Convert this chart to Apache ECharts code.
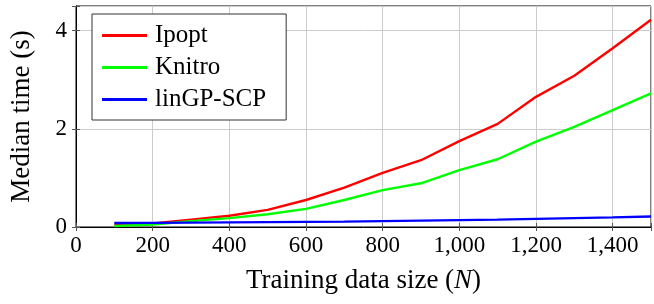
<!DOCTYPE html>
<html><head><meta charset="utf-8">
<script src="https://cdn.jsdelivr.net/npm/echarts@6/dist/echarts.min.js"></script>
<style>html,body{margin:0;padding:0;background:#fff}#c{width:654px;height:304px}</style>
</head><body><div id="c"></div>
<script>
const sizes = [100,200,300,400,500,600,700,800,900,1000,1100,1200,1300,1400,1500];
const ipopt = [0.05,0.07,0.15,0.23,0.35,0.55,0.8,1.1,1.36,1.75,2.1,2.65,3.08,3.64,4.22];
const knitro = [0.02,0.05,0.12,0.18,0.26,0.37,0.55,0.75,0.89,1.16,1.38,1.74,2.04,2.38,2.72];
const lingp = [0.08,0.085,0.09,0.095,0.1,0.105,0.11,0.12,0.13,0.14,0.15,0.165,0.18,0.195,0.215];
const xTicks = [0,200,400,600,800,1000,1200,1400];
const yTicks = [0,2,4];

const font = 'Liberation Serif';
const pair = a => sizes.map((x,i)=>[x,a[i]]);
const chart = echarts.init(document.getElementById('c'));
const gridLine = {show:true,lineStyle:{color:'#cccccc',width:1}};
chart.setOption({
  animation:false,
  textStyle:{fontFamily:font,color:'#000'},
  grid:{left:74,right:-4,top:6,bottom:77,show:true,borderColor:'#000',borderWidth:1},
  legend:{orient:'vertical',left:92,top:14,icon:'rect',itemWidth:45,itemHeight:3,itemGap:7,
    padding:[9,20,8,10],borderColor:'#333',borderWidth:1,backgroundColor:'#fff',borderRadius:0,
    textStyle:{fontFamily:font,fontSize:25,color:'#000',padding:[0,0,0,3]},
    data:['Ipopt','Knitro','linGP-SCP']},
  xAxis:[{type:'value',min:0,max:1500,interval:200,
    axisLine:{lineStyle:{color:'#000'}},
    axisTick:{inside:true,length:4,lineStyle:{color:'#555'}},
    axisLabel:{fontSize:23,color:'#000',margin:7,fontFamily:font,
      formatter:v=>xTicks.includes(v)?v.toLocaleString('en-US'):''},
    splitLine:gridLine,
    name:'{n|Training data size (}{i|N}{n|)}',nameLocation:'middle',nameGap:40,
    nameTextStyle:{rich:{n:{fontSize:27,fontFamily:font,color:'#000'},i:{fontSize:27,fontFamily:font,fontStyle:'italic',color:'#000'}}}},
   {type:'value',position:'top',min:0,max:1500,interval:200,
    axisLine:{show:false},axisTick:{inside:true,length:4,lineStyle:{color:'#555'}},
    axisLabel:{show:false},splitLine:{show:false}}],
  yAxis:[{type:'value',min:0,max:4.5,interval:2,
    axisLine:{show:true,lineStyle:{color:'#000'}},
    axisTick:{show:true,inside:true,length:4,lineStyle:{color:'#555'}},
    axisLabel:{fontSize:23,color:'#000',margin:9,fontFamily:font,
      formatter:v=>yTicks.includes(v)?String(v):''},
    splitLine:gridLine,
    name:'Median time (s)',nameLocation:'middle',nameGap:41,
    nameTextStyle:{fontSize:27,fontFamily:font,color:'#000'}},
   {type:'value',position:'right',min:0,max:4.5,interval:2,
    axisLine:{show:false},axisTick:{show:true,inside:true,length:4,lineStyle:{color:'#555'}},
    axisLabel:{show:false},splitLine:{show:false}}],
  series:[
    {name:'Ipopt',type:'line',data:pair(ipopt),symbol:'none',lineStyle:{color:'#ff0000',width:2.4},itemStyle:{color:'#ff0000'}},
    {name:'Knitro',type:'line',data:pair(knitro),symbol:'none',lineStyle:{color:'#00ff00',width:2.4},itemStyle:{color:'#00ff00'}},
    {name:'linGP-SCP',type:'line',data:pair(lingp),symbol:'none',lineStyle:{color:'#0000ff',width:2.4},itemStyle:{color:'#0000ff'}}
  ]
});
</script></body></html>
